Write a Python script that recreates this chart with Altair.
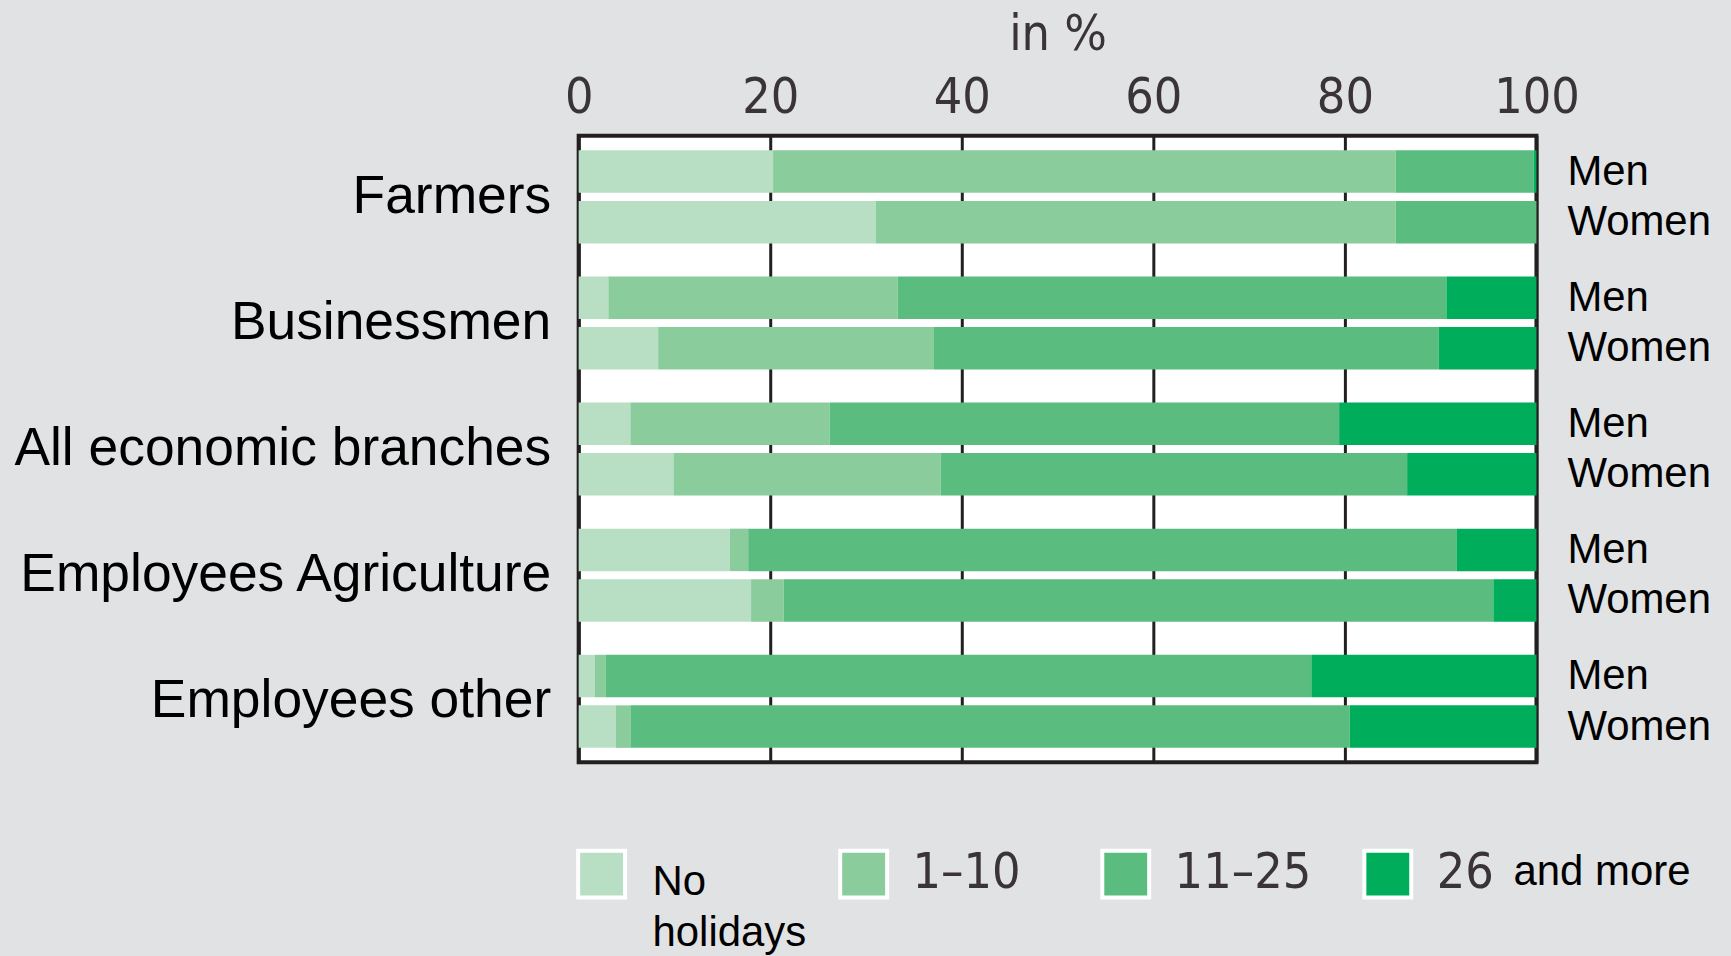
import altair as alt
import pandas as pd

# Holiday days taken per year, share of persons in %
groups = ["Farmers", "Businessmen", "All economic branches",
          "Employees Agriculture", "Employees other"]
sexes = ["Men", "Women"]
categories = ["No holidays", "1–10", "11–25", "26 and more"]
colors = ["#b8dfc3", "#8bcc9c", "#5abc7e", "#00ad5a"]

# one value per (group, sex) row, in the order of groups x sexes
no_holidays = [20.3, 31.0, 3.1, 8.3, 5.4, 9.9, 15.8, 18.0, 1.7, 3.9]
days_1_10 = [65.0, 54.3, 30.2, 28.8, 20.8, 27.9, 1.9, 3.4, 1.1, 1.5]
days_11_25 = [14.4, 14.7, 57.3, 52.7, 53.2, 48.7, 74.0, 74.1, 73.7, 75.1]
days_26_plus = [0.3, 0.0, 9.4, 10.2, 20.6, 13.5, 8.3, 4.5, 23.5, 19.5]

x_ticks = [0, 20, 40, 60, 80, 100]

series = [no_holidays, days_1_10, days_11_25, days_26_plus]
rows = [(g, s) for g in groups for s in sexes]

bar_records = []
for ci, (cat, vals) in enumerate(zip(categories, series)):
    for (g, s), v in zip(rows, vals):
        bar_records.append({"group": g, "sex": s, "category": cat,
                            "value": v, "order": ci})
bar_df = pd.DataFrame(bar_records)
side_df = pd.DataFrame([{"group": g, "sex": s} for g, s in rows])

legend_df = pd.DataFrame({
    "category": categories,
    "lead_narrow": ["", "1–10", "11–25", "26"],
    "lead_sans": ["No\nholidays", "", "", ""],
    "tail_sans": ["", "", "", "and more"],
})

NARROW = "'Liberation Sans Narrow', 'DejaVu Sans Condensed', sans-serif"
SANS = "'Liberation Sans', Arial, sans-serif"
W, H = 960, 628

color_scale = alt.Scale(domain=categories, range=colors)
y_enc = alt.Y("group:N", sort=groups,
              scale=alt.Scale(paddingInner=0.262, paddingOuter=0.115),
              axis=alt.Axis(title=None, orient="left", ticks=False, domain=False,
                            labelFont=SANS, labelFontSize=53.5, labelColor="#000000",
                            labelPadding=28, labelLimit=1000))
yoff_enc = alt.YOffset("sex:N", sort=sexes,
                       scale=alt.Scale(paddingInner=0.16, paddingOuter=0))

x_scale = alt.Scale(domain=[0, 100], nice=False, zero=True)

bars = alt.Chart(bar_df).mark_bar(strokeWidth=0).encode(
    x=alt.X("sum(value):Q", scale=x_scale, stack="zero",
            axis=alt.Axis(orient="top", values=x_ticks, title="in %",
                          grid=True, gridColor="#231f20", gridWidth=3,
                          ticks=False, domain=False, labelFlush=False,
                          labelFont=NARROW, labelFontSize=50,
                          labelColor="#3a3436", labelPadding=23,
                          labelBaseline="alphabetic",
                          titleFont=NARROW, titleFontSize=50,
                          titleFontWeight="normal", titleColor="#3a3436",
                          titlePadding=14)),
    y=y_enc,
    yOffset=yoff_enc,
    color=alt.Color("category:N", scale=color_scale, legend=None),
    order=alt.Order("order:Q"),
)

side_labels = alt.Chart(side_df).mark_text(
    align="left", baseline="middle", dx=31,
    font=SANS, fontSize=42, color="#000000",
).encode(
    x=alt.datum(100, scale=x_scale),
    y=alt.Y("group:N", sort=groups),
    yOffset=alt.YOffset("sex:N", sort=sexes),
    text="sex:N",
)

main = alt.layer(bars, side_labels)

# legend row drawn under the plot, on its own horizontal scale
lx = alt.X("category:N", sort=categories,
           scale=alt.Scale(type="point", range=[23, 811], padding=0),
           axis=None)

leg_sq = alt.Chart(legend_df).mark_square(
    size=2209, filled=True, stroke="#ffffff", strokeWidth=4, opacity=1,
).encode(x=lx, y=alt.value(740),
         color=alt.Color("category:N", scale=color_scale, legend=None))

leg_narrow = alt.Chart(legend_df).mark_text(
    align="left", baseline="middle", dx=49,
    font=NARROW, fontSize=50, color="#3a3436",
).encode(x=lx, y=alt.value(739), text="lead_narrow:N")

leg_sans = alt.Chart(legend_df).mark_text(
    align="left", baseline="alphabetic", dx=51, lineBreak="\n", lineHeight=51,
    font=SANS, fontSize=42, color="#000000",
).encode(x=lx, y=alt.value(761), text="lead_sans:N")

leg_tail = alt.Chart(legend_df).mark_text(
    align="left", baseline="middle", dx=126,
    font=SANS, fontSize=42, color="#000000",
).encode(x=lx, y=alt.value(738), text="tail_sans:N")

legend = alt.layer(leg_sq, leg_narrow, leg_sans, leg_tail)

chart = alt.layer(main, legend).resolve_scale(x="independent").properties(
    width=W, height=H,
    background="#e1e2e4",
    padding={"left": 13, "top": 8, "right": 20, "bottom": 10},
).configure_view(
    fill="#ffffff", stroke="#231f20", strokeWidth=4,
)

chart.save("out.html", embed_options={"renderer": "svg", "actions": False})
